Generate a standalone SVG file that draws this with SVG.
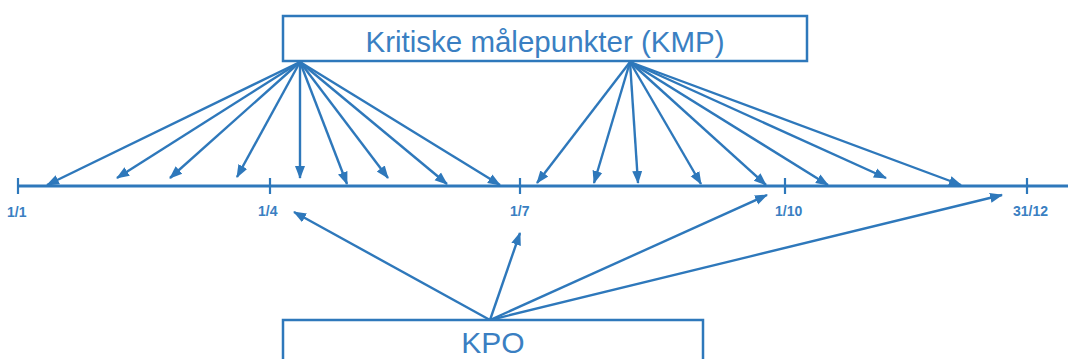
<svg xmlns="http://www.w3.org/2000/svg" width="1068" height="359" viewBox="0 0 1068 359">
<style>
.box{fill:#fff;stroke:#2e78bb;stroke-width:2.5}
.big{font-family:"Liberation Sans",Arial,sans-serif;font-size:29.5px;fill:#3a7fc2;text-anchor:middle}
.lbl{font-family:"Liberation Sans",Arial,sans-serif;font-size:14px;font-weight:bold;fill:#3a7fc2}
.ar{stroke:#2e78bb;stroke-width:2.4;fill:none;marker-end:url(#ah)}
.ax{stroke:#2e78bb;stroke-width:3;fill:none}
.tk{stroke:#2e78bb;stroke-width:2.2}
</style>
<defs>
<marker id="ah" markerUnits="userSpaceOnUse" markerWidth="14" markerHeight="12" refX="12" refY="5" orient="auto" viewBox="0 0 14 10">
<path d="M0,0 L13,5 L0,10 z" fill="#2e78bb"/>
</marker>
</defs>
<rect width="1068" height="359" fill="#fff"/>
<g id="axis">
<line class="ax" x1="18" y1="186" x2="1068" y2="186"/>
<line class="tk" x1="18" y1="178" x2="18" y2="194"/>
<line class="tk" x1="270" y1="178" x2="270" y2="194"/>
<line class="tk" x1="520" y1="178" x2="520" y2="194"/>
<line class="tk" x1="785" y1="178" x2="785" y2="194"/>
<line class="tk" x1="1027" y1="178" x2="1027" y2="194"/>
<text class="lbl" x="7" y="217">1/1</text>
<text class="lbl" x="258" y="216">1/4</text>
<text class="lbl" x="510" y="216">1/7</text>
<text class="lbl" x="775" y="216">1/10</text>
<text class="lbl" x="1013" y="216">31/12</text>
</g>
<g id="connectors">
<line class="ar" x1="300" y1="62" x2="47" y2="185"/>
<line class="ar" x1="300" y1="62" x2="117" y2="178"/>
<line class="ar" x1="300" y1="62" x2="170" y2="178"/>
<line class="ar" x1="300" y1="62" x2="237" y2="177"/>
<line class="ar" x1="300" y1="62" x2="300" y2="178"/>
<line class="ar" x1="300" y1="62" x2="347" y2="184"/>
<line class="ar" x1="300" y1="62" x2="388" y2="178"/>
<line class="ar" x1="300" y1="62" x2="447" y2="184"/>
<line class="ar" x1="300" y1="62" x2="500" y2="185"/>
<line class="ar" x1="630" y1="62" x2="537" y2="183"/>
<line class="ar" x1="630" y1="62" x2="594" y2="183"/>
<line class="ar" x1="630" y1="62" x2="638" y2="183"/>
<line class="ar" x1="630" y1="62" x2="701" y2="184"/>
<line class="ar" x1="630" y1="62" x2="766" y2="185"/>
<line class="ar" x1="630" y1="62" x2="828" y2="185"/>
<line class="ar" x1="630" y1="62" x2="886" y2="178"/>
<line class="ar" x1="630" y1="62" x2="961" y2="185"/>
<line class="ar" x1="490" y1="320" x2="294" y2="212"/>
<line class="ar" x1="490" y1="320" x2="520" y2="233"/>
<line class="ar" x1="490" y1="320" x2="767" y2="195"/>
<line class="ar" x1="490" y1="320" x2="1002" y2="195"/>
</g>
<g id="kmp">
<rect class="box" x="283" y="16" width="524" height="45"/>
<text class="big" x="545" y="52">Kritiske målepunkter (KMP)</text>
</g>
<g id="kpo">
<rect class="box" x="283" y="320" width="420" height="50"/>
<text class="big" x="493" y="353" style="font-size:30px">KPO</text>
</g>
</svg>
